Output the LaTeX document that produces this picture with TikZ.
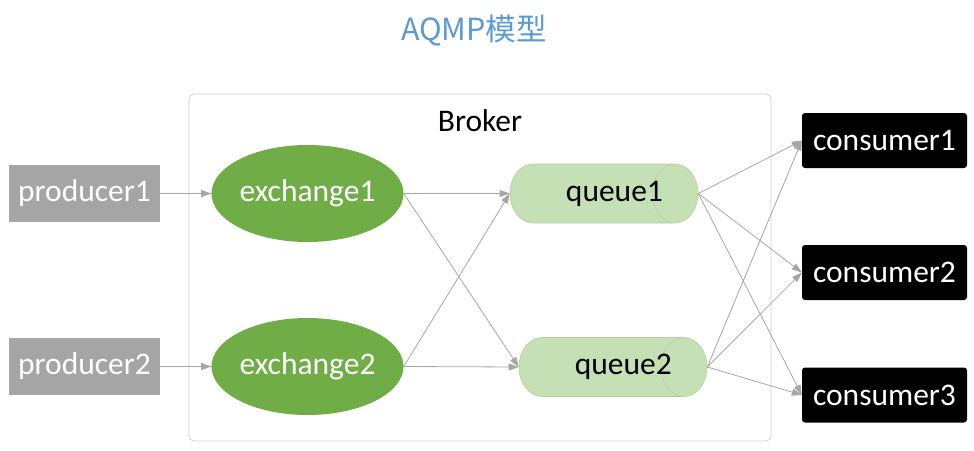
\documentclass[tikz,border=0pt]{standalone}
\usepackage{fontspec}
\setmainfont{Carlito}
\newfontfamily\cjk{Noto Sans CJK SC}
\usetikzlibrary{shapes.geometric,arrows.meta}
\definecolor{boxgray}{HTML}{A5A5A5}
\definecolor{exgreen}{HTML}{70AD47}
\definecolor{qgreen}{HTML}{C5E0B4}
\definecolor{qline}{HTML}{B3D1A0}
\definecolor{linegray}{HTML}{A6A6A6}
\definecolor{titleblue}{HTML}{5B9BD5}
\definecolor{brokerline}{HTML}{D0D0D0}
\begin{document}
\begin{tikzpicture}[x=1pt,y=-1pt,
  font=\fontsize{31.5}{36}\selectfont,
  prod/.style={rectangle, fill=boxgray, text=white, minimum width=151pt, minimum height=57pt, inner sep=0pt},
  exch/.style={ellipse, fill=exgreen, text=white, minimum width=181pt, minimum height=97pt, inner sep=0pt},
  queue/.style={cylinder, shape border rotate=0, aspect=1.8, anchor=shape center, draw=qline, line width=0.6pt, cylinder uses custom fill, cylinder body fill=qgreen, cylinder end fill=qgreen, minimum width=59pt, minimum height=188pt, inner sep=0pt},
  cons/.style={rectangle, rounded corners=3pt, fill=black, text=white, minimum width=165pt, minimum height=55pt, inner sep=0pt},
  flow/.style={draw=linegray, line width=0.8pt, -{Triangle[length=10pt,width=7pt]}}]

\useasboundingbox (0,0) rectangle (974,450);

\node[text=titleblue, font=\cjk\fontsize{30.5}{34}\selectfont] (T) at (474,30) {AQMP模型};

\node[draw=brokerline, line width=0.8pt, rounded corners=5pt, minimum width=582pt, minimum height=347pt] (BR) at (480,267.5) {};
\node (B) at (480,121) {Broker};

\node[prod] (P1) at (84.5,193.5) {producer1};
\node[prod] (P2) at (84.5,366.5) {producer2};

\node[exch] (E1) at (307.5,193.5) {exchange1};
\node[exch] (E2) at (307.5,366.5) {exchange2};

\node[queue] (Q1) at (604,193.5) {\hspace*{22pt}queue1\hspace*{-22pt}};
\node[queue] (Q2) at (613,367) {\hspace*{22pt}queue2\hspace*{-22pt}};

\node[cons] (C1) at (884.5,140.5) {consumer1};
\node[cons] (C2) at (884.5,272.5) {consumer2};
\node[cons] (C3) at (884.5,395) {consumer3};

\path (P1) edge[flow] (E1);
\path (P2) edge[flow] (E2);

\path (E1.east) edge[flow] (Q1.west);
\path (E1.east) edge[flow] (Q2.west);
\path (E2.east) edge[flow] (Q1.west);
\path (E2.east) edge[flow] (Q2.west);

\path (Q1.east) edge[flow] (C1.west);
\path (Q1.east) edge[flow] (C2.west);
\path (Q1.east) edge[flow] (C3.west);
\path (Q2.east) edge[flow] (C1.west);
\path (Q2.east) edge[flow] (C2.west);
\path (Q2.east) edge[flow] (C3.west);

\end{tikzpicture}
\end{document}
